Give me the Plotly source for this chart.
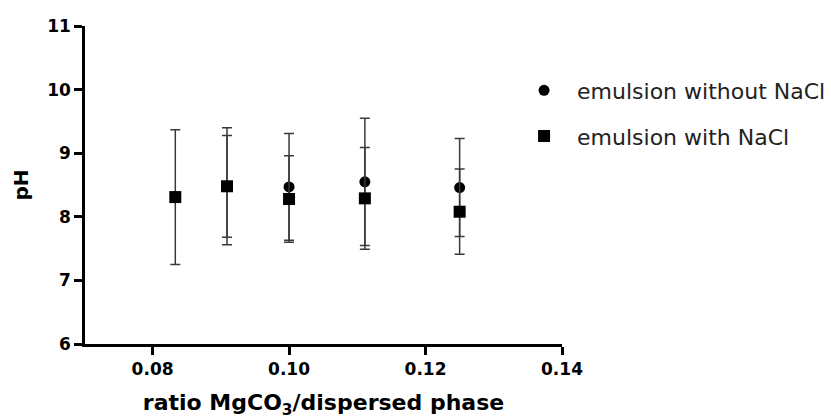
import plotly.graph_objects as go

# data
x_without = [1/11, 1/10, 1/9, 1/8]
ph_without = [8.48, 8.47, 8.55, 8.46]
err_without = [0.80, 0.84, 1.00, 0.77]

x_with = [1/12, 1/11, 1/10, 1/9, 1/8]
ph_with = [8.31, 8.48, 8.28, 8.29, 8.08]
err_with = [1.06, 0.92, 0.68, 0.80, 0.67]

x_ticks = [0.08, 0.10, 0.12, 0.14]
x_ticklabels = ["0.08", "0.10", "0.12", "0.14"]
y_ticks = [6, 7, 8, 9, 10, 11]

ERR_COLOR = "#3a3a3a"

fig = go.Figure()
fig.add_trace(go.Scatter(
    x=x_without, y=ph_without, mode="markers", name="emulsion without NaCl",
    legendgroup="a",
    marker=dict(symbol="circle", size=11, color="black"),
    error_y=dict(type="data", array=err_without, visible=True,
                 color=ERR_COLOR, thickness=1.5, width=5),
))
fig.add_trace(go.Scatter(
    x=x_with, y=ph_with, mode="markers", name="emulsion with NaCl",
    legendgroup="b",
    marker=dict(symbol="square", size=12, color="black"),
    error_y=dict(type="data", array=err_with, visible=True,
                 color=ERR_COLOR, thickness=1.5, width=5),
))

fig.update_layout(
    width=831, height=419,
    margin=dict(l=85, r=269, t=26, b=75, autoexpand=False),
    paper_bgcolor="white", plot_bgcolor="white",
    font=dict(family="DejaVu Sans", color="black"),
    showlegend=True,
    legend=dict(
        xref="container", yref="container", x=0.615, y=0.834,
        xanchor="left", yanchor="top", itemwidth=56,
        font=dict(family="DejaVu Sans", size=22, color="#222"),
        tracegroupgap=14, itemsizing="trace", bgcolor="rgba(0,0,0,0)",
    ),
    xaxis=dict(
        range=[0.0701, 0.14], tickvals=x_ticks, ticktext=x_ticklabels,
        showgrid=False, zeroline=False, showline=True, linecolor="black", linewidth=2.5,
        ticks="outside", ticklen=8, tickwidth=2.5, tickcolor="black",
        tickfont=dict(family="DejaVu Sans", size=17, color="black", weight="bold"),
        title=dict(text="ratio MgCO<sub>3</sub>/dispersed phase",
                   font=dict(family="DejaVu Sans", size=22, color="black", weight="bold"),
                   standoff=20),
    ),
    yaxis=dict(
        range=[6, 11], tickvals=y_ticks,
        showgrid=False, zeroline=False, showline=True, linecolor="black", linewidth=2.5,
        ticks="outside", ticklen=8, tickwidth=2.5, tickcolor="black",
        tickfont=dict(family="DejaVu Sans", size=17, color="black", weight="bold"),
        title=dict(text="pH",
                   font=dict(family="DejaVu Sans", size=20, color="black", weight="bold"),
                   standoff=14),
    ),
)

fig.write_html("out.html")
